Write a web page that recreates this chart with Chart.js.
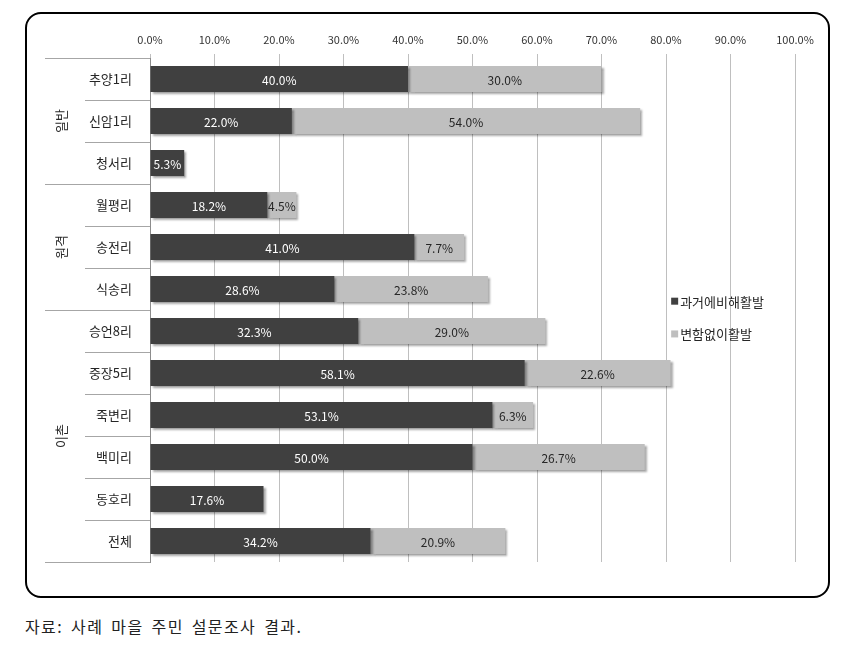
<!DOCTYPE html>
<html>
<head>
<meta charset="utf-8">
<script src="https://cdn.jsdelivr.net/npm/chart.js@4.4.0/dist/chart.umd.min.js"></script>
<style>
  html, body { margin: 0; padding: 0; background: #fff; }
  body { width: 845px; height: 652px; position: relative; overflow: hidden; font-family: 'Noto Sans CJK KR', 'Noto Sans', sans-serif; }
  #frame { position: absolute; left: 25px; top: 12px; width: 801px; height: 582px; border: 2px solid #000; border-radius: 16px; }
  #frame canvas { position: absolute; left: 0; top: 0; }
  #caption { position: absolute; left: 25px; top: 614px; font-size: 16px; color: #222; letter-spacing: 1.4px; word-spacing: 3px; }
</style>
</head>
<body>
<div id="frame"><canvas id="c" width="801" height="582"></canvas></div>
<div id="caption">자료: 사례 마을 주민 설문조사 결과.</div>
<script>
const categories = ['추양1리','신암1리','청서리','월평리','송전리','식송리','승언8리','중장5리','죽변리','백미리','동호리','전체'];
const pastMore = [40.0, 22.0, 5.3, 18.2, 41.0, 28.6, 32.3, 58.1, 53.1, 50.0, 17.6, 34.2];
const sameActive = [30.0, 54.0, 0, 4.5, 7.7, 23.8, 29.0, 22.6, 6.3, 26.7, 0, 20.9];
const seriesNames = ['과거에비해활발', '변함없이활발'];
const groupNames = ['일반', '원격', '이촌'];
const groupSizes = [3, 3, 6];
const xTicks = [0, 10, 20, 30, 40, 50, 60, 70, 80, 90, 100];

const FONT = "'Noto Sans CJK KR', 'Noto Sans', sans-serif";
const DARK = '#404040';
const LIGHT = '#bfbfbf';

const shadowPlugin = {
  id: 'shadow',
  beforeDatasetsDraw(chart) {
    const ctx = chart.ctx;
    ctx.save();
    ctx.shadowColor = 'rgba(0,0,0,0.35)';
    ctx.shadowBlur = 2;
    ctx.shadowOffsetX = 2;
    ctx.shadowOffsetY = 2;
  },
  afterDatasetsDraw(chart) {
    chart.ctx.restore();
  }
};

const labelPlugin = {
  id: 'barLabels',
  afterDatasetsDraw(chart) {
    const ctx = chart.ctx;
    ctx.save();
    ctx.font = '12px ' + FONT;
    ctx.textAlign = 'center';
    ctx.textBaseline = 'middle';
    chart.data.datasets.forEach((ds, di) => {
      const meta = chart.getDatasetMeta(di);
      meta.data.forEach((el, i) => {
        const v = ds.data[i];
        if (!v) return;
        ctx.fillStyle = di === 0 ? '#ffffff' : '#262626';
        ctx.fillText(v.toFixed(1) + '%', (el.x + el.base) / 2, el.y + 1);
      });
    });
    ctx.restore();
  }
};

const sidePlugin = {
  id: 'side',
  afterDraw(chart) {
    const ctx = chart.ctx;
    const area = chart.chartArea;
    const n = categories.length;
    const step = (area.bottom - area.top) / n;
    const groupEnds = new Set([0]);
    let acc = 0;
    groupSizes.forEach(s => { acc += s; groupEnds.add(acc); });
    ctx.save();
    ctx.strokeStyle = '#a6a6a6';
    ctx.lineWidth = 1;
    for (let i = 0; i <= n; i++) {
      const py = Math.round(area.top + i * step) + 0.5;
      const x0 = groupEnds.has(i) ? 18 : 58;
      ctx.beginPath();
      ctx.moveTo(x0, py);
      ctx.lineTo(area.left, py);
      ctx.stroke();
    }
    ctx.fillStyle = '#262626';
    ctx.font = '13px ' + FONT;
    ctx.textAlign = 'center';
    ctx.textBaseline = 'middle';
    let start = 0;
    groupSizes.forEach((s, gi) => {
      const cy = area.top + (start + s / 2) * step;
      ctx.save();
      ctx.translate(34, cy);
      ctx.rotate(-Math.PI / 2);
      ctx.fillText(groupNames[gi], 0, 0);
      ctx.restore();
      start += s;
    });
    const lx = area.left + (area.right - area.left) * 0.808;
    const ly = [area.top + (area.bottom - area.top) * 0.4825, area.top + (area.bottom - area.top) * 0.5475];
    ctx.font = '13px ' + FONT;
    ctx.textAlign = 'left';
    [DARK, LIGHT].forEach((col, k) => {
      ctx.fillStyle = col;
      ctx.fillRect(lx, ly[k] - 3.5, 7, 7);
      ctx.fillStyle = '#262626';
      ctx.fillText(seriesNames[k], lx + 9, ly[k] + 0.5);
    });
    ctx.restore();
  }
};

new Chart(document.getElementById('c'), {
  type: 'bar',
  data: {
    labels: categories,
    datasets: [
      { label: seriesNames[0], data: pastMore, backgroundColor: DARK, borderWidth: 0 },
      { label: seriesNames[1], data: sameActive, backgroundColor: LIGHT, borderWidth: 0 }
    ]
  },
  options: {
    indexAxis: 'y',
    responsive: false,
    animation: false,
    devicePixelRatio: 1,
    layout: { padding: { left: 0, right: 33, top: 0, bottom: 34 } },
    datasets: { bar: { categoryPercentage: 0.62, barPercentage: 1.0 } },
    plugins: { legend: { display: false }, tooltip: { enabled: false } },
    scales: {
      x: {
        position: 'top',
        stacked: true,
        min: 0, max: 100,
        afterBuildTicks(scale) { scale.ticks = xTicks.map(v => ({ value: v })); },
        afterFit(scale) { scale.height = 44; },
        ticks: {
          callback: v => Number(v).toFixed(1) + '%',
          font: { size: 11, family: FONT },
          color: '#333',
          padding: 8,
          maxRotation: 0
        },
        grid: { color: '#bfbfbf', lineWidth: 1, tickLength: 4, tickColor: '#bfbfbf' },
        border: { display: false }
      },
      y: {
        stacked: true,
        afterFit(scale) { scale.width = 123; },
        ticks: { font: { size: 13, family: FONT }, color: '#262626', padding: 10 },
        grid: { display: false },
        border: { display: true, color: '#8c8c8c', width: 1 }
      }
    }
  },
  plugins: [shadowPlugin, labelPlugin, sidePlugin]
});
</script>
</body>
</html>
